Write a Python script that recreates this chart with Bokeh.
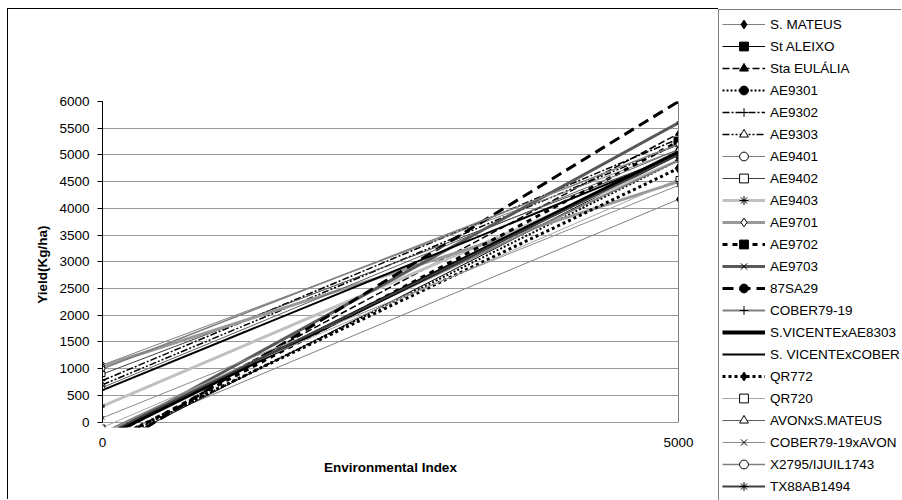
from bokeh.plotting import figure
from bokeh.layouts import row
from bokeh.models import Range1d, FixedTicker, LinearAxis, Legend, LegendItem
from bokeh.embed import file_html
from bokeh.resources import INLINE

# ---------------- data ----------------
env_index = [0, 5000]
genotypes = ["S. MATEUS", "St ALEIXO", "Sta EULÁLIA", "AE9301", "AE9302", "AE9303",
             "AE9401", "AE9402", "AE9403", "AE9701", "AE9702", "AE9703", "87SA29",
             "COBER79-19", "S.VICENTExAE8303", "S. VICENTExCOBER", "QR772", "QR720",
             "AVONxS.MATEUS", "COBER79-19xAVON", "X2795/IJUIL1743", "TX88AB1494"]
yield_at_0 = [-350, -500, -350, -450, 780, 700,
              1070, 900, 300, 1050, -450, -300, -600,
              -200, -300, 600, -400, -100,
              650, 80, 1000, -250]
yield_at_5000 = [4170, 5000, 5400, 4900, 5300, 5200,
                 5100, 5000, 4900, 4500, 5250, 5600, 6000,
                 4900, 5050, 5000, 4750, 4550,
                 5100, 4430, 5200, 5000]
x_ticks = [0, 5000]
y_ticks = [0, 500, 1000, 1500, 2000, 2500, 3000, 3500, 4000, 4500, 5000, 5500, 6000]

# ---------------- styles ----------------
line_colors = ["#808080", "#000000", "#000000", "#000000", "#000000", "#000000",
               "#808080", "#404040", "#c0c0c0", "#999999", "#000000", "#595959", "#000000",
               "#808080", "#000000", "#000000", "#000000", "#a6a6a6",
               "#606060", "#8c8c8c", "#808080", "#404040"]
line_widths = [1, 1, 1.5, 2, 1.5, 1.5,
               1, 1, 3, 3, 3, 3, 3,
               2, 4, 2, 3, 1,
               1, 1, 1.5, 2]
line_dashes = ["solid", "solid", "7 3", "2 2", "7 2 2 2", "7 2 2 2 2 2",
               "solid", "solid", "solid", "solid", "5 5", "solid", "11 6",
               "solid", "solid", "solid", "3 3", "solid",
               "solid", "solid", "solid", "solid"]
markers = ["diamond", "square", "triangle", "circle", "cross", "triangle",
           "circle", "square", "asterisk", "diamond", "square", "x", "circle",
           "cross", "dash", "dash", "diamond", "square",
           "triangle", "x", "circle", "asterisk"]
marker_fill = ["black", "black", "black", "black", "black", "white",
               "white", "white", "black", "white", "black", "black", "black",
               "black", "black", "black", "black", "white",
               "white", "black", "white", "black"]
marker_sizes = [6, 5, 6, 5, 6, 6,
                5, 5, 5, 6, 9, 5, 4,
                7, 4, 4, 10, 5,
                6, 5, 5, 5]

FONT = "Liberation Sans"
FS = "13.5px"

p = figure(width=711, height=491, output_backend="svg", toolbar_location=None,
           x_range=Range1d(0, 5000), y_range=Range1d(-100, 6000),
           min_border_left=94, min_border_right=41, min_border_top=92, min_border_bottom=73,
           background_fill_color="white", border_fill_color="white",
           outline_line_color=None)
p.margin = (8, 0, 0, 7)
p.frame_align = False
p.styles = {"border-left": "1px solid black", "border-top": "1px solid black"}

# axes
p.xaxis.ticker = FixedTicker(ticks=x_ticks)
p.xaxis.axis_line_color = None
p.xaxis.major_tick_line_color = None
p.xaxis.minor_tick_line_color = None
p.xaxis.major_label_standoff = 4
p.xaxis.axis_label = "Environmental Index"
p.xaxis.axis_label_standoff = 10

p.yaxis.ticker = FixedTicker(ticks=y_ticks)
p.yaxis.bounds = (0, 6000)
p.yaxis.axis_line_color = "black"
p.yaxis.major_tick_line_color = "black"
p.yaxis.major_tick_out = 5
p.yaxis.major_tick_in = 0
p.yaxis.minor_tick_line_color = None
p.yaxis.major_label_standoff = 8
p.yaxis.axis_label = "Yield(Kg/ha)"
p.yaxis.axis_label_standoff = 6

for ax in (p.xaxis[0], p.yaxis[0]):
    ax.major_label_text_font = FONT
    ax.major_label_text_font_size = FS
    ax.major_label_text_color = "black"
    ax.axis_label_text_font = FONT
    ax.axis_label_text_font_size = FS
    ax.axis_label_text_font_style = "bold"
    ax.axis_label_text_color = "black"

right_axis = LinearAxis(ticker=FixedTicker(ticks=[]), bounds=(0, 6000),
                        axis_line_color="#808080", major_tick_line_color=None,
                        minor_tick_line_color=None, major_label_text_font_size="0px")
p.add_layout(right_axis, "right")

p.xgrid.grid_line_color = None
p.ygrid.ticker = FixedTicker(ticks=y_ticks)
p.ygrid.grid_line_color = "#999999"
p.ygrid.grid_line_width = 1

# legend panel (separate canvas so the legend is not clipped by the plot frame)
lp = figure(width=183, height=491, output_backend="svg", toolbar_location=None,
            x_range=Range1d(-20000, -19000), y_range=Range1d(-20000, -19000),
            x_axis_type=None, y_axis_type=None,
            min_border_left=0, min_border_right=0, min_border_top=0, min_border_bottom=0,
            outline_line_color=None, background_fill_color="white", border_fill_color="white")
lp.margin = (9, 0, 0, 0)
lp.frame_align = False

items = []
for i, name in enumerate(genotypes):
    ys = [yield_at_0[i], yield_at_5000[i]]
    line_kw = dict(line_color=line_colors[i], line_width=line_widths[i], line_dash=line_dashes[i])
    mark_kw = dict(marker=markers[i], size=marker_sizes[i], line_color="black",
                   fill_color=marker_fill[i], line_width=1)
    p.line(env_index, ys, **line_kw)
    p.scatter(env_index, ys, **mark_kw)
    ln = lp.line(env_index, ys, **line_kw)
    sc = lp.scatter(env_index, ys, **mark_kw)
    items.append(LegendItem(label=name, renderers=[ln, sc]))

row_h = 22
legend = Legend(items=items, location="top_left",
                margin=0, padding=3, spacing=0,
                glyph_width=43, glyph_height=row_h, label_height=row_h, label_standoff=5,
                label_text_font=FONT, label_text_font_size=FS, label_text_color="black",
                border_line_color="black", border_line_width=1,
                background_fill_color="white", background_fill_alpha=1.0)
lp.add_layout(legend)

layout = row(p, lp)
open("out.html", "w").write(file_html(layout, INLINE))
